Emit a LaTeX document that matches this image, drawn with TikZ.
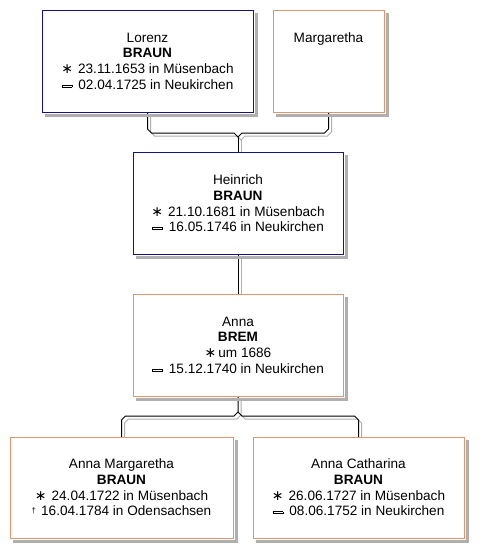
\documentclass[tikz,border=0pt]{standalone}
\usepackage{fontspec}
\setmainfont{Liberation Sans}
\newfontfamily\dejavu{DejaVu Sans}
\usetikzlibrary{calc}
\definecolor{mblue}{RGB}{20,20,130}
\definecolor{forg}{RGB}{222,150,110}
\definecolor{shad}{RGB}{175,175,175}
\newcommand{\birth}{{\dejavu\fontsize{14}{14}\selectfont ∗}}
\newcommand{\marr}{\raisebox{2.5pt}{\fboxsep=0pt\fboxrule=0.9pt\fbox{\rule{9pt}{0pt}\rule{0pt}{1.4pt}}}}
\newcommand{\dagg}{\raisebox{2.5pt}{\footnotesize †}}
\newcommand{\shadowof}[1]{%
  \fill[shad] ($(#1.north east)+(0.5,3)$) rectangle ($(#1.south east)+(3.5,3.5)$);
  \fill[shad] ($(#1.south west)+(3,0.5)$) rectangle ($(#1.south east)+(3.5,3.5)$);}
\begin{document}
\begin{tikzpicture}[x=1pt,y=-1pt,
  box/.style={draw, fill=white, line width=1pt, anchor=north west, inner sep=0pt},
  mbox/.style={box, draw=mblue},
  obox/.style={box, draw=forg},
  txt/.style={anchor=north, align=center, font=\fontsize{13.6}{15.8}\selectfont, inner sep=0pt},
  con/.style={draw=black, line width=1pt,
    preaction={draw=shad, line width=1pt, transform canvas={xshift=3pt,yshift=-3pt}}}]
\useasboundingbox (0,0) rectangle (484,558);
\fill[white] (0,0) rectangle (484,558);
% anchors for connectors (box geometry)
\coordinate (lorS) at (147.5,112);
\coordinate (marS) at (328.5,112);
\coordinate (heiN) at (238,152);
\coordinate (heiS) at (238,254);
\coordinate (annN) at (238,294);
\coordinate (annS) at (238,396);
\coordinate (amN) at (121.5,437);
\coordinate (acN) at (358.5,437);
\coordinate (j1) at (238,137);
\coordinate (j2) at (238,412);
% connectors
\draw[con] (lorS) -- ++(0,17) -- ++(4,4) -- ($(j1)+(-4,-4)$) -- (j1)
  -- ($(j1)+(4,-4)$) -- ($(marS)+(-4,21)$) -- ($(marS)+(0,17)$) -- (marS);
\draw[con] (j1) -- (heiN);
\draw[con] (heiS) -- (annN);
\draw[con] (annS) -- (j2) -- ++(-4,4) -- ($(amN)+(4,-21)$) -- ($(amN)+(0,-17)$) -- (amN);
\draw[con] (j2) -- ++(4,4) -- ($(acN)+(-4,-21)$) -- ($(acN)+(0,-17)$) -- (acN);
% boxes
\node[mbox, minimum width=211pt, minimum height=102pt] (lor) at (42,10) {};
\node[obox, minimum width=111pt, minimum height=102pt] (mar) at (273,10) {};
\node[mbox, minimum width=210pt, minimum height=102pt] (hei) at (133,152) {};
\node[obox, minimum width=210pt, minimum height=102pt] (ann) at (133,294) {};
\node[obox, minimum width=223pt, minimum height=101pt] (am) at (10,437) {};
\node[obox, minimum width=211pt, minimum height=101pt] (ac) at (253,437) {};
\shadowof{lor}\shadowof{mar}\shadowof{hei}\shadowof{ann}\shadowof{am}\shadowof{ac}
% texts
\node[txt] (lor-t) at (147.5,32.5) {Lorenz\\\textbf{BRAUN}\\\birth\hspace{5pt}23.11.1653 in Müsenbach\\\marr\hspace{6pt}02.04.1725 in Neukirchen};
\node[txt] (mar-t) at (328.5,32.5) {Margaretha};
\node[txt] (hei-t) at (238,174.5) {Heinrich\\\textbf{BRAUN}\\\birth\hspace{5pt}21.10.1681 in Müsenbach\\\marr\hspace{6pt}16.05.1746 in Neukirchen};
\node[txt] (ann-t) at (238,316.5) {Anna\\\textbf{BREM}\\\birth\hspace{2pt}um 1686\\\marr\hspace{6pt}15.12.1740 in Neukirchen};
\node[txt] (am-t) at (121.5,458.5) {Anna Margaretha\\\textbf{BRAUN}\\\birth\hspace{5pt}24.04.1722 in Müsenbach\\\dagg\hspace{5pt}16.04.1784 in Odensachsen};
\node[txt] (ac-t) at (358.5,458.5) {Anna Catharina\\\textbf{BRAUN}\\\birth\hspace{5pt}26.06.1727 in Müsenbach\\\marr\hspace{6pt}08.06.1752 in Neukirchen};
\end{tikzpicture}
\end{document}
